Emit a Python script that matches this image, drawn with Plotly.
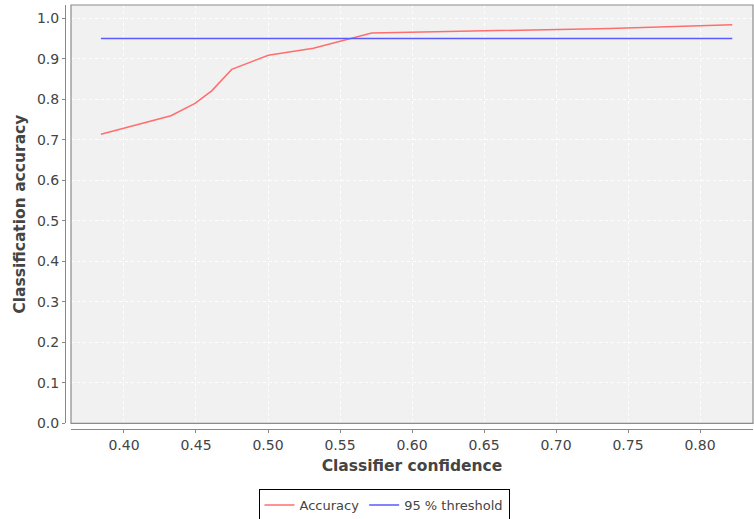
import plotly.graph_objects as go

confidence = [0.384, 0.4326, 0.4493, 0.4609, 0.4748, 0.5002, 0.5315, 0.572, 0.7375, 0.8224]
accuracy = [0.714, 0.7595, 0.790, 0.821, 0.874, 0.909, 0.926, 0.964, 0.975, 0.984]
threshold_x = [0.384, 0.8224]
threshold_y = [0.95, 0.95]

x_range = [0.3632, 0.8368]
y_range = [0.0, 1.033]

W, H = 754, 519
ml, mr, mt, mb = 65, 1, 5, 90
pw = W - ml - mr
ph = H - mt - mb
xdom0 = 6 / pw
ydom0 = 5.7 / ph

font = "DejaVu Sans"
txt = "#444444"

fig = go.Figure()
fig.add_trace(go.Scatter(x=confidence, y=accuracy, mode="lines", name="Accuracy",
                         line=dict(color="#ff6e6e", width=1.5)))
fig.add_trace(go.Scatter(x=threshold_x, y=threshold_y, mode="lines", name="95 % threshold",
                         line=dict(color="#5a5aff", width=1.5)))

fig.update_layout(
    width=W, height=H,
    margin=dict(l=ml, r=mr, t=mt, b=mb, autoexpand=False),
    paper_bgcolor="white",
    plot_bgcolor="#f1f1f1",
    font=dict(family=font, size=14, color=txt),
    showlegend=True,
    legend=dict(orientation="h", x=(384 - ml) / pw, xanchor="center",
                y=(ph - (489 - mt)) / ph, yanchor="top",
                bordercolor="black", borderwidth=1, bgcolor="white",
                font=dict(family=font, size=13, color=txt),
                itemwidth=30, tracegroupgap=0),
    xaxis=dict(domain=[xdom0, 1], anchor="free", position=0, range=x_range,
               automargin=False,
               tick0=0.40, dtick=0.05, tickformat=".2f",
               showline=True, linecolor="#888888", linewidth=1,
               ticks="outside", ticklen=3, tickcolor="#888888",
               showgrid=True, gridcolor="rgba(255,255,255,0.9)", griddash="dot", gridwidth=1,
               zeroline=False, tickfont=dict(size=14, color=txt),
               title=dict(text="<b>Classifier confidence</b>", standoff=8,
                          font=dict(size=15.5, color=txt))),
    yaxis=dict(domain=[ydom0, 1], anchor="free", position=0, range=y_range,
               automargin=False,
               tick0=0, dtick=0.1, tickformat=".1f",
               showline=True, linecolor="#888888", linewidth=1,
               ticks="outside", ticklen=3, tickcolor="#888888",
               showgrid=True, gridcolor="rgba(255,255,255,0.9)", griddash="dot", gridwidth=1,
               zeroline=False, tickfont=dict(size=14, color=txt),
               title=dict(text="<b>Classification accuracy</b>", standoff=6,
                          font=dict(size=15.5, color=txt))),
)

fig.add_shape(type="rect", xref="paper", yref="paper", x0=xdom0, x1=1, y0=ydom0, y1=1,
              line=dict(color="#8c8c8c", width=1.2), fillcolor="rgba(0,0,0,0)", layer="above")

fig.write_html("out.html", config={"displayModeBar": False},
               post_script="document.body.style.margin='0px';")
